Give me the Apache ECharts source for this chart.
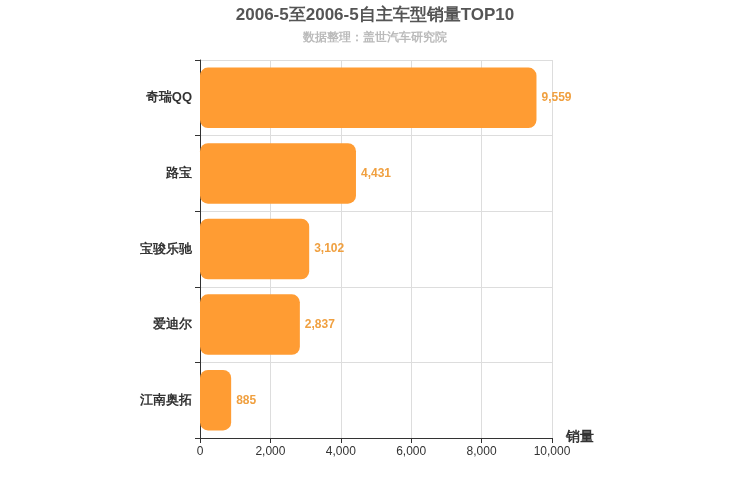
<!DOCTYPE html>
<html><head><meta charset="utf-8">
<script src="https://cdn.jsdelivr.net/npm/echarts@6/dist/echarts.min.js"></script>
<style>html,body{margin:0;padding:0}#c{width:750px;height:500px}</style>
</head><body><div id="c"></div>
<script>
const categories = ["奇瑞QQ","路宝","宝骏乐驰","爱迪尔","江南奥拓"];
const values = [9559,4431,3102,2837,885];
const chart = echarts.init(document.getElementById('c'));
chart.setOption({
  title:{text:"2006-5至2006-5自主车型销量TOP10",subtext:"数据整理：盖世汽车研究院",left:'center',top:2,
    textStyle:{fontSize:17,fontWeight:'bold',color:'#555'},subtextStyle:{fontSize:12,fontWeight:'bold',color:'#bbb'},itemGap:8},
  grid:{left:200,right:198,top:60,bottom:62},
  xAxis:{type:'value',min:0,max:10000,interval:2000,name:'销量',nameGap:14,
    nameTextStyle:{fontSize:14,fontWeight:'bold',color:'#333',verticalAlign:'top',padding:[-8,0,0,0]},
    axisLine:{show:true,lineStyle:{color:'#333'}},axisTick:{show:true},
    axisLabel:{color:'#333',formatter:v=>v.toLocaleString('en-US')},
    splitLine:{lineStyle:{color:'#ddd'}}},
  yAxis:{type:'category',data:categories,inverse:true,
    axisLine:{lineStyle:{color:'#333'}},axisTick:{show:true},
    axisLabel:{fontSize:13,fontWeight:'bold',color:'#333'},
    splitLine:{show:true,lineStyle:{color:'#ddd'}}},
  series:[{type:'bar',data:values,barWidth:'80%',
    itemStyle:{color:'#ff9c33',borderRadius:8},
    label:{show:true,position:'right',color:'#f0a040',fontWeight:'bold',fontSize:12,
      formatter:p=>p.value.toLocaleString('en-US')}}]
});
</script></body></html>
